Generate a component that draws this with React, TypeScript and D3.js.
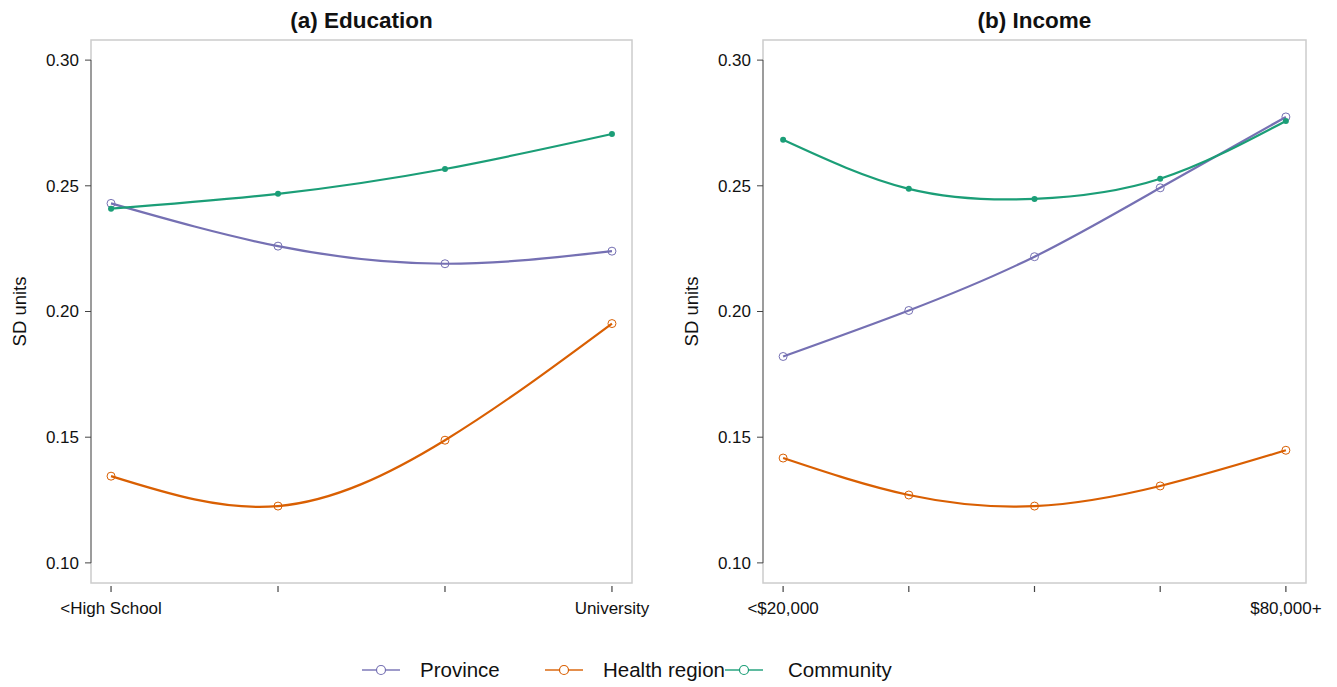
import React from "react";
import * as d3 from "d3";

// Values (SD units)
const eduLabels = ["<High School", "", "", "University"];
const eduProvince = [0.243, 0.226, 0.219, 0.224];
const eduHealth = [0.1345, 0.1226, 0.1488, 0.1952];
const eduCommunity = [0.2409, 0.2468, 0.2567, 0.2706];

const incLabels = ["<$20,000", "", "", "", "$80,000+"];
const incProvince = [0.1821, 0.2004, 0.2218, 0.2492, 0.2774];
const incHealth = [0.1417, 0.127, 0.1226, 0.1306, 0.1448];
const incCommunity = [0.2683, 0.2488, 0.2448, 0.2528, 0.2758];

const yTicks = [0.1, 0.15, 0.2, 0.25, 0.3];
const seriesNames = ["Province", "Health region", "Community"];
const colors = ["#7570B3", "#D95F02", "#1B9E77"];

const W = 1337;
const H = 687;
const top = 40;
const bottom = 583;
const font = "'Liberation Sans', Arial, sans-serif";

type PanelProps = {
  title: string;
  left: number;
  right: number;
  labels: string[];
  series: number[][];
};

const Panel = ({ title, left, right, labels, series }: PanelProps) => {
  const n = labels.length;
  const ext = (n - 1) * 0.04;
  const x = d3.scaleLinear().domain([1 - ext, n + ext]).range([left, right]);
  const y = d3.scaleLinear().domain([0.092, 0.308]).range([bottom, top]);
  const line = d3
    .line<number>()
    .x((_, i) => x(i + 1))
    .y((d) => y(d))
    .curve(d3.curveNatural);
  const idx = d3.range(1, n + 1);

  return (
    <g>
      <text
        x={(left + right) / 2}
        y={28}
        textAnchor="middle"
        fontWeight="bold"
        fontSize={22.5}
        fill="#111"
      >
        {title}
      </text>
      <rect
        x={left}
        y={top}
        width={right - left}
        height={bottom - top}
        fill="none"
        stroke="#cccccc"
        strokeWidth={1.5}
      />
      {/* y axis */}
      <line
        x1={left}
        x2={left}
        y1={y(0.1)}
        y2={y(0.3)}
        stroke="#888"
        strokeWidth={1.5}
      />
      {yTicks.map((t) => (
        <g key={t}>
          <line x1={left - 6} x2={left} y1={y(t)} y2={y(t)} stroke="#444" />
          <text
            x={left - 12}
            y={y(t)}
            dy="0.35em"
            textAnchor="end"
            fontSize={17}
            fill="#111"
          >
            {d3.format(".2f")(t)}
          </text>
        </g>
      ))}
      <text
        transform={`translate(${left - 65},${(top + bottom) / 2}) rotate(-90)`}
        textAnchor="middle"
        fontSize={18.5}
        fill="#111"
      >
        SD units
      </text>
      {/* x axis ticks */}
      {idx.map((v, i) => (
        <g key={v}>
          <line x1={x(v)} x2={x(v)} y1={bottom + 3} y2={bottom + 9} stroke="#444" strokeWidth={1.2} />
          <text x={x(v)} y={bottom + 31} textAnchor="middle" fontSize={17} fill="#111">
            {labels[i]}
          </text>
        </g>
      ))}
      {/* series */}
      {series.map((vals, s) => (
        <g key={s}>
          <path d={line(vals) || ""} fill="none" stroke={colors[s]} strokeWidth={2.2} />
          {vals.map((v, i) =>
            s === 2 ? (
              <circle key={i} cx={x(i + 1)} cy={y(v)} r={3} fill={colors[s]} />
            ) : (
              <circle
                key={i}
                cx={x(i + 1)}
                cy={y(v)}
                r={4}
                fill="white"
                fillOpacity={0}
                stroke={colors[s]}
                strokeWidth={1}
              />
            )
          )}
        </g>
      ))}
    </g>
  );
};

const legendX = [362, 545, 725];
const legendTextX = [420, 603, 788];

const App = () => {
  return (
    <svg
      width={W}
      height={H}
      style={{ position: "absolute", left: 0, top: 0, background: "white" }}
      fontFamily={font}
    >
      <Panel
        title="(a) Education"
        left={91}
        right={632}
        labels={eduLabels}
        series={[eduProvince, eduHealth, eduCommunity]}
      />
      <Panel
        title="(b) Income"
        left={763}
        right={1306}
        labels={incLabels}
        series={[incProvince, incHealth, incCommunity]}
      />
      {seriesNames.map((name, i) => (
        <g key={name}>
          <line
            x1={legendX[i]}
            x2={legendX[i] + 38}
            y1={670}
            y2={670}
            stroke={colors[i]}
            strokeOpacity={0.7}
            strokeWidth={2}
          />
          <circle cx={legendX[i] + 19} cy={670} r={4.5} fill="white" stroke={colors[i]} strokeWidth={1.2} />
          <text x={legendTextX[i]} y={670} dy="0.35em" fontSize={20.5} fill="#111">
            {name}
          </text>
        </g>
      ))}
    </svg>
  );
};

export default App;
